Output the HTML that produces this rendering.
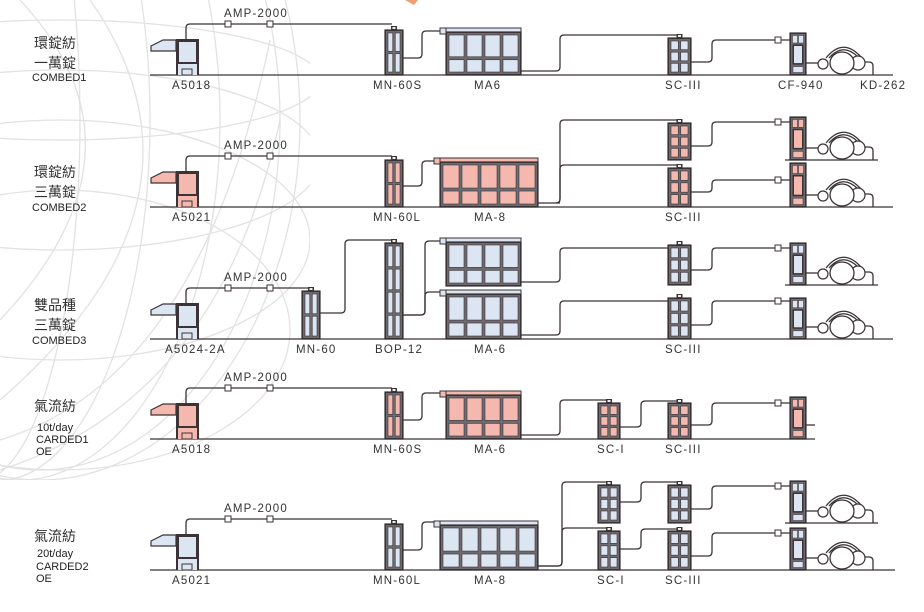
<!DOCTYPE html>
<html><head><meta charset="utf-8"><style>
html,body{margin:0;padding:0;background:#fff;width:924px;height:612px;overflow:hidden}
svg{display:block}
.l{font-family:"Liberation Sans",sans-serif;font-size:11.5px;letter-spacing:1.2px;fill:#333}
.c{font-family:"Liberation Sans","Noto Sans CJK TC",sans-serif;font-size:14px;fill:#333}
.e{font-family:"Liberation Sans",sans-serif;font-size:11px;fill:#222}
</style></head><body>
<svg id="s" width="924" height="612" viewBox="0 0 924 612" xmlns="http://www.w3.org/2000/svg">
<defs><clipPath id="gc"><rect x="0" y="0" width="310" height="480"/></clipPath></defs>
<g clip-path="url(#gc)" fill="none" stroke="#e2e2e2" stroke-width="1.3">
<ellipse cx="40" cy="120" rx="260" ry="360"/>
<ellipse cx="40" cy="120" rx="240" ry="350"/>
<ellipse cx="20" cy="120" rx="200" ry="360"/>
<ellipse cx="0" cy="120" rx="150" ry="360"/>
<ellipse cx="-20" cy="120" rx="100" ry="360"/>
<ellipse cx="60" cy="80" rx="260" ry="60"/>
<ellipse cx="60" cy="160" rx="260" ry="90"/>
<ellipse cx="60" cy="240" rx="250" ry="120"/>
<ellipse cx="60" cy="330" rx="230" ry="140"/>
<path d="M0,470 Q220,400 280,120"/>
<path d="M0,440 Q200,380 270,40"/>
<path d="M20,0 Q160,150 0,320"/>
<path d="M90,0 Q230,200 0,400"/>
</g>
<path d="M405,0 L418,0 L414,5 Z" fill="#f0a070"/>
<g id="draw"></g>
<g id="labels">
<text class="c" x="34" y="48">環錠紡</text>
<text class="c" x="34" y="68">一萬錠</text>
<text class="e" x="32" y="81">COMBED1</text>
<text class="c" x="34" y="177">環錠紡</text>
<text class="c" x="34" y="197">三萬錠</text>
<text class="e" x="32" y="211">COMBED2</text>
<text class="c" x="34" y="310">雙品種</text>
<text class="c" x="34" y="330">三萬錠</text>
<text class="e" x="32" y="344">COMBED3</text>
<text class="c" x="34" y="411">氣流紡</text>
<text class="e" x="37" y="431">10t/day</text>
<text class="e" x="36" y="443">CARDED1</text>
<text class="e" x="36" y="455">OE</text>
<text class="c" x="34" y="541">氣流紡</text>
<text class="e" x="37" y="557">20t/day</text>
<text class="e" x="36" y="570">CARDED2</text>
<text class="e" x="36" y="582">OE</text>

<text class="l" x="224" y="17">AMP-2000</text>
<text class="l" x="172" y="89">A5018</text>
<text class="l" x="373" y="89">MN-60S</text>
<text class="l" x="474" y="89">MA6</text>
<text class="l" x="665" y="89">SC-III</text>
<text class="l" x="778" y="89">CF-940</text>
<text class="l" x="860" y="89">KD-262</text>

<text class="l" x="224" y="149">AMP-2000</text>
<text class="l" x="172" y="221">A5021</text>
<text class="l" x="373" y="221">MN-60L</text>
<text class="l" x="474" y="221">MA-8</text>
<text class="l" x="665" y="221">SC-III</text>

<text class="l" x="224" y="281">AMP-2000</text>
<text class="l" x="165" y="353">A5024-2A</text>
<text class="l" x="296" y="353">MN-60</text>
<text class="l" x="375" y="353">BOP-12</text>
<text class="l" x="474" y="353">MA-6</text>
<text class="l" x="665" y="353">SC-III</text>

<text class="l" x="224" y="381">AMP-2000</text>
<text class="l" x="172" y="453">A5018</text>
<text class="l" x="373" y="453">MN-60S</text>
<text class="l" x="474" y="453">MA-6</text>
<text class="l" x="597" y="453">SC-I</text>
<text class="l" x="665" y="453">SC-III</text>

<text class="l" x="224" y="512">AMP-2000</text>
<text class="l" x="172" y="584">A5021</text>
<text class="l" x="373" y="584">MN-60L</text>
<text class="l" x="474" y="584">MA-8</text>
<text class="l" x="597" y="584">SC-I</text>
<text class="l" x="665" y="584">SC-III</text>
</g>
</svg>
<script>
var g=document.getElementById('draw'),o='';
var D='#3b3335',B='#dce6f3',P='#f5b8ae';
function r(x,y,w,h,f,s,sw){o+='<rect x="'+x+'" y="'+y+'" width="'+w+'" height="'+h+'" fill="'+f+'"'+(s?' stroke="'+s+'" stroke-width="'+(sw||1)+'"':'')+'/>';}
function p(d){o+='<path d="'+d+'" fill="none" stroke="'+D+'" stroke-width="1.3"/>';}
function ln(x1,x2,y){o+='<line x1="'+x1+'" x2="'+x2+'" y1="'+y+'" y2="'+y+'" stroke="'+D+'" stroke-width="1.3"/>';}
function cab(x,y,w,h,rows,cols,f){
 r(x,y,w,h,D);r(x+1,y+1,w-2,h-2,'#6d6a70');
 var tot=rows.reduce(function(a,b){return a+b},0),pad=3,gap=2.5;
 var ih=h-2*pad-gap*(rows.length-1),iw=w-2*pad-gap*(cols-1),cy=y+pad;
 for(var i=0;i<rows.length;i++){var rh=ih*rows[i]/tot;
  for(var j=0;j<cols;j++){r(x+pad+j*(iw/cols+gap),cy,iw/cols,rh,f,D,0.6);}
  cy+=rh+gap;}
 r(x,y,w,h,'none',D,1.2);
}
function cap(x,y){r(x,y,6,4,D);r(x+1.5,y+1,3,2,'#eee');}
function sq(x,y){r(x-3,y-3,6,6,'#fff',D,1);}
function feeder(b,f){
 o+='<polygon points="151,'+(b-29)+' 163,'+(b-35)+' 176,'+(b-35)+' 176,'+(b-24)+' 151,'+(b-24)+'" fill="'+f+'" stroke="'+D+'" stroke-width="1.2"/>';
 r(176,b-36,23,36,D);r(179,b-33,17,20,f);r(178,b-11,19,11,f);r(182,b-6,10,6,f,D,1);
 p('M186,'+(b-36)+' V'+(b-47)+' Q186,'+(b-51)+' 190,'+(b-51)+' H392');
 sq(228,b-51);sq(270,b-51);
}
function mn(x,top,b,rows,f){cap(x+6,top-4);cab(x,top,18,b-top,rows||[1,1],2,f);}
function ma(x,top,b,w,cols,f){
 r(x,top,w,4,f,D,1);r(x,top+4,w,b-top-4,D);r(x+1,top+5,w-2,b-top-6,'#6d6a70');
 var ih=b-top-4,uh=(ih-9)*0.64,lh=ih-9-uh,cw=(w-6-(cols-1)*3)/cols;
 for(var j=0;j<cols;j++){r(x+3+j*(cw+3),top+7,cw,uh,f,D,0.6);r(x+3+j*(cw+3),top+10+uh,cw,lh,f,D,0.6);}
 r(x,top+4,w,b-top-4,'none',D,1.2);
 r(x-6,top,6,6,f,D,1);
}
function sc(x,top,b,w,f){cap(x+w/2-3,top-4);cab(x,top,w,b-top,[1,1,1],2,f);}
function cf(top,b,f){
 var x=790,w=16,h=b-top;r(x,top,w,h,D);r(x+1,top+1,w-2,h-2,'#6d6a70');
 var th=h*0.25,bh=h*0.2;
 r(x+2.5,top+2.5,5,th-3,f,D,.5);r(x+8.5,top+2.5,5,th-3,f,D,.5);
 r(x+2.5,top+th+1,11,h-th-bh-3,D);r(x+4,top+th+2.5,8,h-th-bh-6,f);
 r(x+3,b-bh,10,bh-2.5,f,D,.5);
 r(x,top,w,h,'none',D,1.2);
}
function kd(b,f){
 var yc=b-12;
 p('M806,'+yc+' H818');
 p('M826,'+(yc-5)+' Q843,'+(yc-26)+' 861,'+(yc-6));
 p('M829,'+(yc-5)+' Q843,'+(yc-21)+' 858,'+(yc-6));
 o+='<circle cx="823" cy="'+(yc+1)+'" r="5" fill="#fff" stroke="'+D+'" stroke-width="1.2"/>';
 o+='<circle cx="858" cy="'+yc+'" r="7" fill="#fff" stroke="'+D+'" stroke-width="1.2"/>';
 o+='<ellipse cx="842" cy="'+yc+'" rx="12" ry="11" fill="#fff" stroke="'+D+'" stroke-width="1.3"/>';
 p('M865,'+(yc-1)+' H869 Q873,'+(yc-1)+' 873,'+(yc+3)+' V'+b);
}
function step(x1,y1,xm,y2,x2){
 var d=y2<y1?-1:1;
 p('M'+x1+','+y1+' H'+(xm-4)+' Q'+xm+','+y1+' '+xm+','+(y1+4*d)+' V'+(y2-4*d)+' Q'+xm+','+y2+' '+(xm+4)+','+y2+' H'+x2);
}
function cfline(y1,ys){step(691,y1,712,ys,790);sq(778,ys);}

/* Row 1 */
var b=75;ln(150,893,b);feeder(b,B);
mn(385,30,b,[1,1],B);
step(403,58,422,31,440);ma(446,28,b,75,4,B);
step(521,71,560,35,677);sc(668,38,b,23,B);
cfline(62,40);cf(33,b,B);kd(b,B);

/* Row 2 */
b=207;ln(150,893,b);feeder(b,P);
mn(385,160,b,[1,1],P);
step(403,186,422,161,434);ma(440,158,b,98,5,P);
step(538,203,560,120,677);step(560,203,560,165,677);
sc(668,123,160,23,P);sc(668,168,b,23,P);
cfline(146,122);cf(117,160,P);ln(785,878,160);kd(160,P);
cfline(192,180);cf(163,b,P);kd(b,P);

/* Row 3 */
b=339;ln(150,893,b);feeder(b,B);
o=o.replace(/H392(?![\s\S]*H392)/,'H308');
mn(302,291,b,[1,1],B);
step(320,313,345,240,392);
mn(385,243,b,[1,1,1,1],B);
step(403,315,425,241,440);step(403,315,425,292,440);
ma(446,238,286,75,4,B);ma(446,290,b,75,4,B);
step(521,282,560,248,677);step(521,335,560,301,677);
sc(668,245,285,23,B);sc(668,298,b,23,B);
cfline(270,248);cf(243,285,B);ln(785,878,285);kd(285,B);
cfline(325,301);cf(298,b,B);kd(b,B);

/* Row 4 */
b=439;ln(150,815,b);feeder(b,P);
mn(385,392,b,[1,1],P);
step(403,420,422,393,440);ma(446,391,b,75,4,P);
step(521,435,560,400,607);sc(598,403,b,22,P);
step(620,427,641,401,677);sc(668,403,b,23,P);
cfline(425,403);cf(397,b,P);p('M806,425 H815');

/* Row 5 */
b=570;ln(150,895,b);feeder(b,B);
mn(385,524,b,[1,1],B);
step(403,550,422,522,434);ma(440,521,b,98,5,B);
step(538,566,562,482,607);step(538,566,562,528,607);
sc(598,485,523,22,B);sc(598,531,b,22,B);
step(620,502,641,482,677);step(620,549,641,529,677);
sc(668,485,523,23,B);sc(668,531,b,23,B);
cfline(509,486);cf(481,523,B);ln(785,878,523);kd(523,B);
cfline(556,533);cf(528,b,B);kd(b,B);

g.innerHTML=o;
</script>
</body></html>
